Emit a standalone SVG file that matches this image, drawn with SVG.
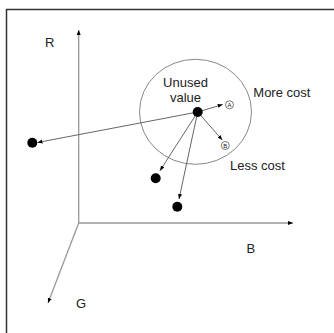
<svg xmlns="http://www.w3.org/2000/svg" width="334" height="333" viewBox="0 0 334 333">
<style>
text{font-family:"Liberation Sans",Arial,sans-serif;font-size:13px;fill:#222}
.ax{stroke:#999;stroke-width:1.3;fill:none}
.ar{stroke:#666;stroke-width:1;fill:none}
.dot{fill:#000}
.sm{fill:#fff;stroke:#777;stroke-width:1}
.sl{font-size:6px;text-anchor:middle}
</style>
<defs>
<marker id="ah" viewBox="0 0 10 10" refX="10" refY="5" markerWidth="5" markerHeight="5" orient="auto" markerUnits="userSpaceOnUse">
<path d="M0,1 L10,5 L0,9 z" fill="#000"/>
</marker>
</defs>
<rect width="334" height="333" fill="#fff"/>
<path d="M6.5,333 V9.5 H334" fill="none" stroke="#333" stroke-width="1.5"/>
<g id="axes">
<line class="ax" x1="78.7" y1="223" x2="78.7" y2="30" marker-end="url(#ah)"/>
<line class="ax" x1="78.7" y1="223" x2="293" y2="223" marker-end="url(#ah)"/>
<line class="ax" x1="78.7" y1="223" x2="48" y2="303" marker-end="url(#ah)"/>
</g>
<text x="45" y="47">R</text>
<text x="246.5" y="253">B</text>
<text x="76" y="308">G</text>
<g id="region">
<ellipse cx="195.5" cy="111.8" rx="56" ry="52.5" fill="none" stroke="#888" stroke-width="1"/>
<text x="185.5" y="87" text-anchor="middle">Unused</text>
<text x="185.5" y="101.5" text-anchor="middle">value</text>
</g>
<text id="more" x="253.3" y="96.7">More cost</text>
<text id="less" x="230" y="170">Less cost</text>
<g id="connectors">
<line class="ar" x1="197.7" y1="112" x2="37.5" y2="142.5" marker-end="url(#ah)"/>
<line class="ar" x1="197.7" y1="112" x2="160" y2="170.7" marker-end="url(#ah)"/>
<line class="ar" x1="197.7" y1="112" x2="179" y2="199" marker-end="url(#ah)"/>
<line class="ar" x1="197.7" y1="112" x2="222.7" y2="104.5" marker-end="url(#ah)"/>
<line class="ar" x1="197.7" y1="112" x2="222.3" y2="140" marker-end="url(#ah)"/>
</g>
<g id="center"><circle class="dot" cx="197.7" cy="112" r="5"/></g>
<g id="p1"><circle class="dot" cx="32.3" cy="142.7" r="5"/></g>
<g id="p2"><circle class="dot" cx="155.7" cy="178.3" r="5"/></g>
<g id="p3"><circle class="dot" cx="177.3" cy="206.7" r="5"/></g>
<g id="A"><circle class="sm" cx="229.5" cy="104.8" r="4"/><text class="sl" x="229.5" y="107">A</text></g>
<g id="Bn"><circle class="sm" cx="225.3" cy="145.5" r="4"/><text class="sl" x="225.3" y="147.7">B</text></g>
</svg>
